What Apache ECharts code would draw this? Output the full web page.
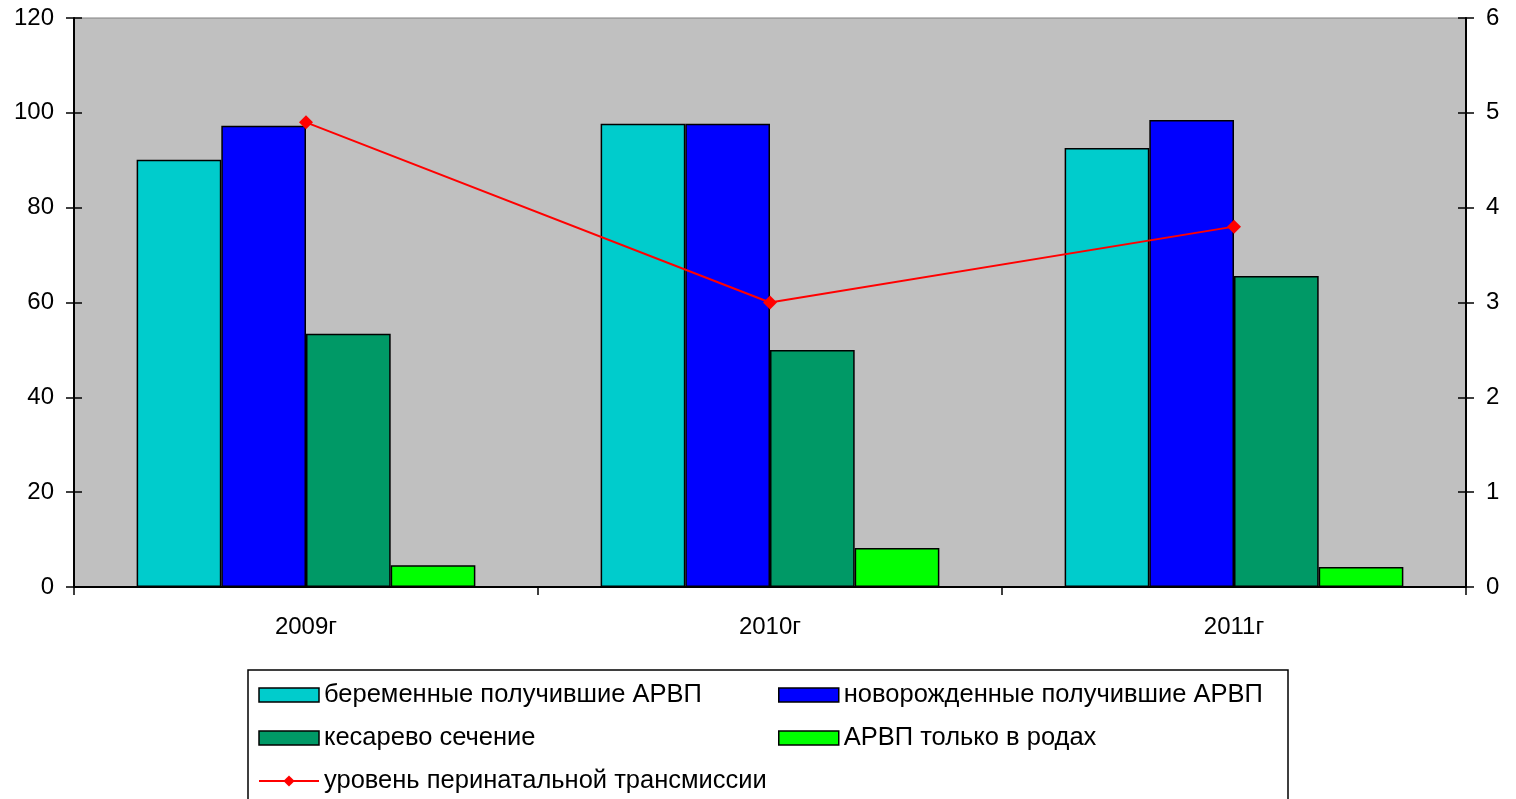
<!DOCTYPE html>
<html>
<head>
<meta charset="utf-8">
<script src="https://cdn.jsdelivr.net/npm/echarts@6/dist/echarts.min.js"></script>
<style>
html, body { margin: 0; padding: 0; background: #fff; }
#chart { width: 1516px; height: 799px; }
</style>
</head>
<body>
<div id="chart"></div>
<script>
var years = ['2009г', '2010г', '2011г'];
var pregnant = [90.1, 97.7, 92.6];
var newborn = [97.3, 97.7, 98.5];
var cesarean = [53.4, 50.0, 65.6];
var onlyBirth = [4.6, 8.2, 4.2];
var transmission = [4.9, 3.0, 3.8];

var font = 'Liberation Sans, Arial, sans-serif';
var chart = echarts.init(document.getElementById('chart'));

function bar(name, data, color) {
    return {
        name: name,
        type: 'bar',
        data: data,
        barGap: 0,
        barCategoryGap: '27%',
        itemStyle: { color: color, borderColor: '#000', borderWidth: 1.5 }
    };
}

var labelStyle = { color: '#000', fontSize: 24, fontFamily: font };
var legendText = { color: '#000', fontSize: 25.5, fontFamily: font };
var boxed = { borderColor: '#000', borderWidth: 1.5 };

option = {
    animation: false,
    backgroundColor: '#fff',
    grid: {
        left: 74, right: 50, top: 18, bottom: 212,
        show: true,
        backgroundColor: '#C0C0C0',
        borderColor: '#808080',
        borderWidth: 1
    },
    xAxis: {
        type: 'category',
        data: years,
        axisLine: { lineStyle: { color: '#000', width: 2 } },
        axisTick: { show: true, length: 8, lineStyle: { color: '#000', width: 1.5 } },
        axisLabel: Object.assign({ margin: 28 }, labelStyle)
    },
    yAxis: [
        {
            type: 'value', min: 0, max: 120, interval: 20,
            axisLine: { show: true, lineStyle: { color: '#000', width: 2 } },
            axisTick: { show: true, length: 8, lineStyle: { color: '#000', width: 1.5 } },
            axisLabel: Object.assign({ margin: 20 }, labelStyle),
            splitLine: { show: false }
        },
        {
            type: 'value', min: 0, max: 6, interval: 1, position: 'right',
            axisLine: { show: true, lineStyle: { color: '#000', width: 2 } },
            axisTick: { show: true, length: 8, lineStyle: { color: '#000', width: 1.5 } },
            axisLabel: Object.assign({ margin: 20 }, labelStyle),
            splitLine: { show: false }
        },
        {
            type: 'value', min: 0, max: 120, interval: 20, position: 'left',
            axisLine: { show: false },
            axisTick: { show: true, inside: true, length: 8, lineStyle: { color: '#000', width: 1.5 } },
            axisLabel: { show: false },
            splitLine: { show: false }
        },
        {
            type: 'value', min: 0, max: 6, interval: 1, position: 'right',
            axisLine: { show: false },
            axisTick: { show: true, inside: true, length: 8, lineStyle: { color: '#000', width: 1.5 } },
            axisLabel: { show: false },
            splitLine: { show: false }
        }
    ],
    graphic: [{
        type: 'rect',
        shape: { x: 248, y: 670, width: 1040, height: 140 },
        style: { fill: '#fff', stroke: '#000', lineWidth: 1.5 },
        z: -1
    }],
    legend: [
        {
            orient: 'vertical',
            left: 253, top: 677,
            itemWidth: 60, itemHeight: 14, itemGap: 17,
            textStyle: legendText,
            data: [
                { name: 'беременные получившие АРВП', icon: 'rect', itemStyle: boxed },
                { name: 'кесарево сечение', icon: 'rect', itemStyle: boxed },
                { name: 'уровень перинатальной трансмиссии' }
            ]
        },
        {
            orient: 'vertical',
            left: 773, top: 677,
            itemWidth: 60, itemHeight: 14, itemGap: 17,
            textStyle: legendText,
            data: [
                { name: 'новорожденные получившие АРВП', icon: 'rect', itemStyle: boxed },
                { name: 'АРВП только в родах', icon: 'rect', itemStyle: boxed }
            ]
        }
    ],
    series: [
        bar('беременные получившие АРВП', pregnant, '#00CCCC'),
        bar('новорожденные получившие АРВП', newborn, '#0000FF'),
        bar('кесарево сечение', cesarean, '#009966'),
        bar('АРВП только в родах', onlyBirth, '#00FF00'),
        {
            name: 'уровень перинатальной трансмиссии',
            type: 'line',
            yAxisIndex: 1,
            data: transmission,
            symbol: 'diamond',
            symbolSize: 14,
            lineStyle: { color: '#FF0000', width: 2 },
            itemStyle: { color: '#FF0000' },
            z: 5
        }
    ]
};

chart.setOption(option);
</script>
</body>
</html>
